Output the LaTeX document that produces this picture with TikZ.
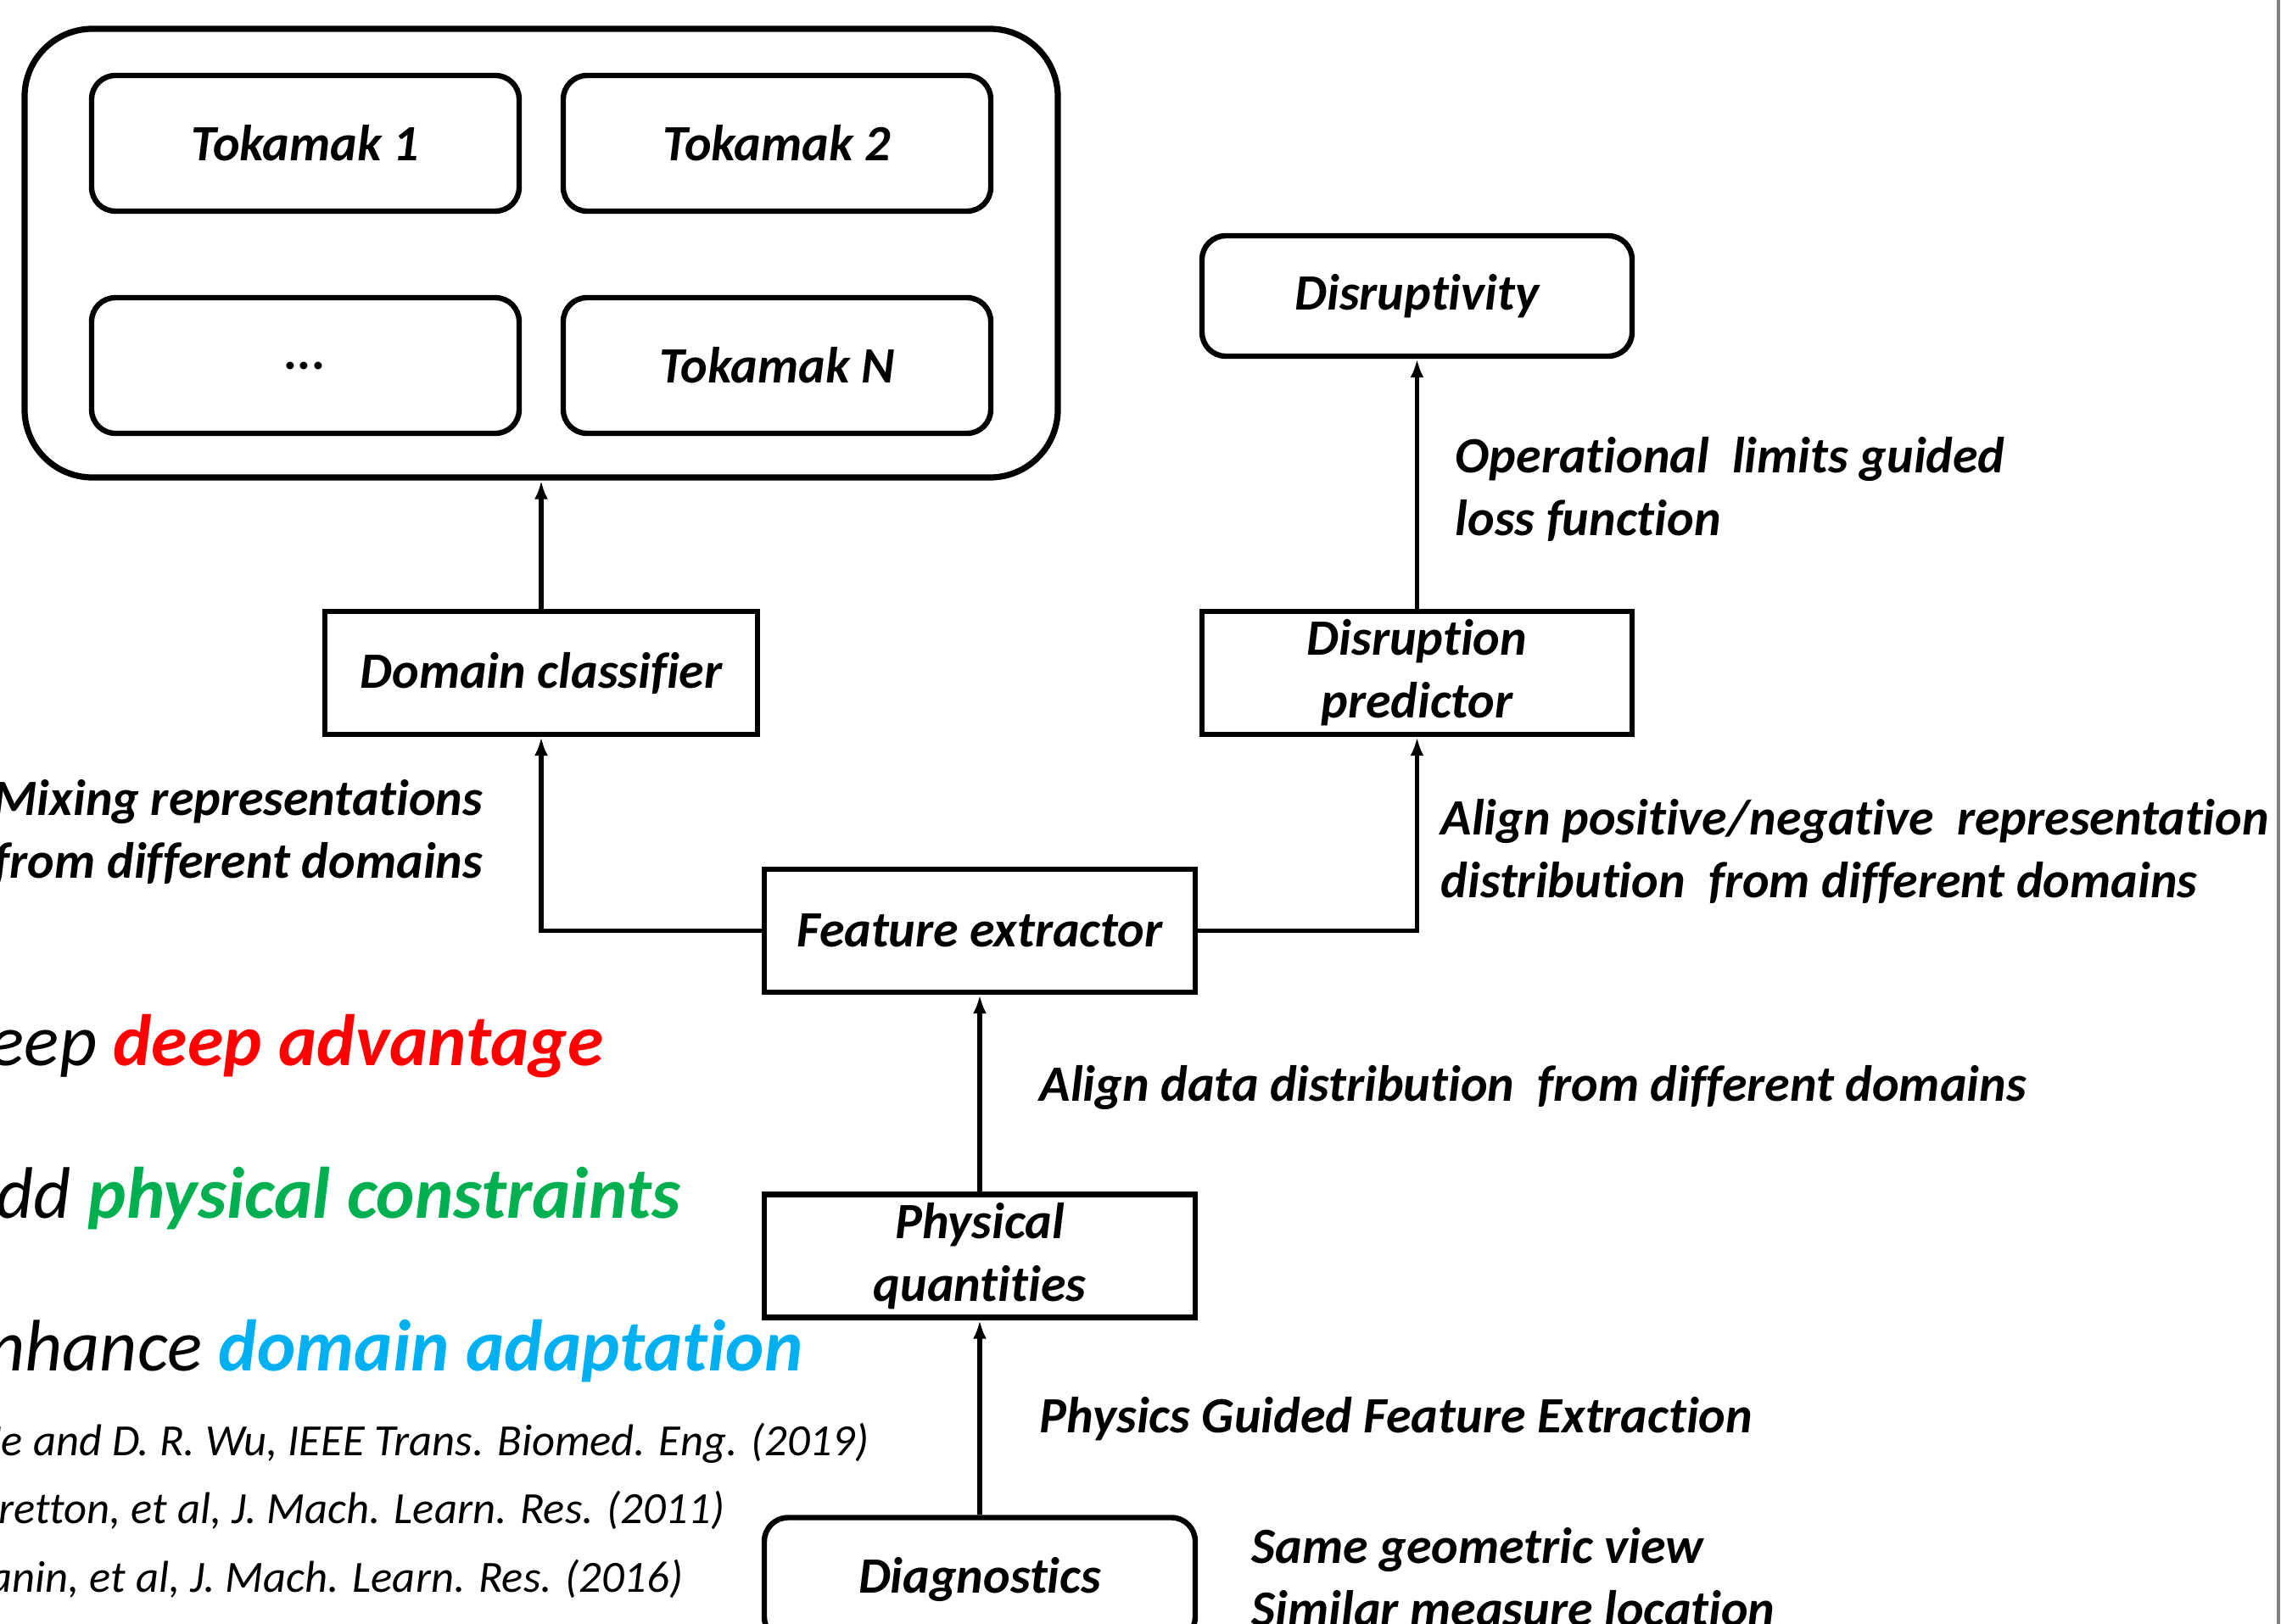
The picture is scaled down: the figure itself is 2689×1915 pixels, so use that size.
\documentclass[tikz,border=0pt]{standalone}
\usepackage{fontspec}
\setmainfont{Carlito}[Ligatures=NoCommon]
\usetikzlibrary{arrows.meta}
\definecolor{cred}{RGB}{255,0,0}
\definecolor{cgreen}{RGB}{0,176,80}
\definecolor{cblue}{RGB}{0,176,240}
\newcommand\lblfont{\fontsize{15}{18.5}\selectfont\bfseries\itshape}
\begin{document}
\begin{tikzpicture}[x=0.25pt,y=-0.25pt,
  sbox/.style={draw, line width=1.6pt, inner sep=0pt, align=center, font=\lblfont,
    minimum width=127pt, minimum height=36.25pt},
  rbox/.style={sbox, rounded corners=7pt},
  lbl/.style={inner sep=0pt, align=left, font=\lblfont},
  big/.style={inner sep=0pt, font=\fontsize{21.5}{26}\selectfont\itshape},
  ref/.style={inner sep=0pt, font=\fontsize{13.15}{16}\selectfont\itshape},
  arr/.style={line width=1.3pt, -{Latex[length=5.5pt,width=4pt]}}]
\useasboundingbox (0,0) rectangle (2689,1915);
\draw[black!50, line width=0.8pt] (2686,0) -- (2686,1915);

% tokamak group
\node[draw, line width=1.8pt, rounded corners=20pt, minimum width=304.5pt,
  minimum height=132.25pt, inner sep=0pt] (outer) at (638,298.5) {};
\node[rbox, minimum width=126pt, minimum height=40pt] (t1) at (360,169) {Tokamak 1};
\node[rbox, minimum width=126pt, minimum height=40pt] (t2) at (916,169) {Tokamak 2};
\node[rbox, minimum width=126pt, minimum height=40pt] (td) at (360,431) {...};
\node[rbox, minimum width=126pt, minimum height=40pt] (tn) at (916,431) {Tokamak N};

% main boxes
\node[sbox, minimum width=127.5pt] (dc) at (638,793.5) {Domain classifier};
\node[rbox, minimum width=126.75pt, minimum height=35.5pt] (dis) at (1670.5,349) {Disruptivity};
\node[sbox, minimum width=126.75pt] (dp) at (1670.5,793.5) {Disruption\\predictor};
\node[sbox] (fe) at (1155,1097.5) {Feature extractor};
\node[sbox] (pq) at (1155,1481) {Physical\\quantities};
\node[rbox] (dg) at (1155,1862) {Diagnostics};

% connectors
\draw[arr] (dc.north) -- (outer.south);
\draw[arr] (dp.north) -- (dis.south);
\draw[arr] (fe.west) -| (dc.south);
\draw[arr] (fe.east) -| (dp.south);
\draw[arr] (pq.north) -- (fe.south);
\draw[arr] (dg.north) -- (pq.south);

% labels (base = baseline of the last line)
\node[lbl, anchor=base west] (l1) at (1715,631) {Operational\ \ limits guided\\loss function};
\node[lbl, anchor=base west] (l2) at (1698,1058) {Align positive/negative\ \ representation\\distribution\ \ from different domains};
\node[lbl, anchor=base east, align=right] (l3) at (570,1035) {Mixing representations\\from different domains};
\node[lbl, anchor=base west] (l4) at (1225,1298) {Align data distribution\ \ from different domains};
\node[lbl, anchor=base west] (l5) at (1225,1689) {Physics Guided Feature Extraction};
\node[lbl, anchor=base west] (l6) at (1475,1917) {Same geometric view\\Similar measure location};

% left texts
\node[big, anchor=base east] (k1) at (712,1256) {Keep \textbf{\color{cred}deep advantage}};
\node[big, anchor=base east] (k2) at (803,1436) {Add \textbf{\color{cgreen}physical constraints}};
\node[big, anchor=base east] (k3) at (947,1616) {Enhance \textbf{\color{cblue}domain adaptation}};
\node[ref, anchor=base east] (r1) at (1025,1716) {He and D. R. Wu, IEEE Trans. Biomed. Eng. (2019)};
\node[ref, anchor=base east] (r2) at (855,1796) {Gretton, et al, J. Mach. Learn. Res. (2011)};
\node[ref, anchor=base east] (r3) at (806,1877) {Ganin, et al, J. Mach. Learn. Res. (2016)};
\end{tikzpicture}
\end{document}
